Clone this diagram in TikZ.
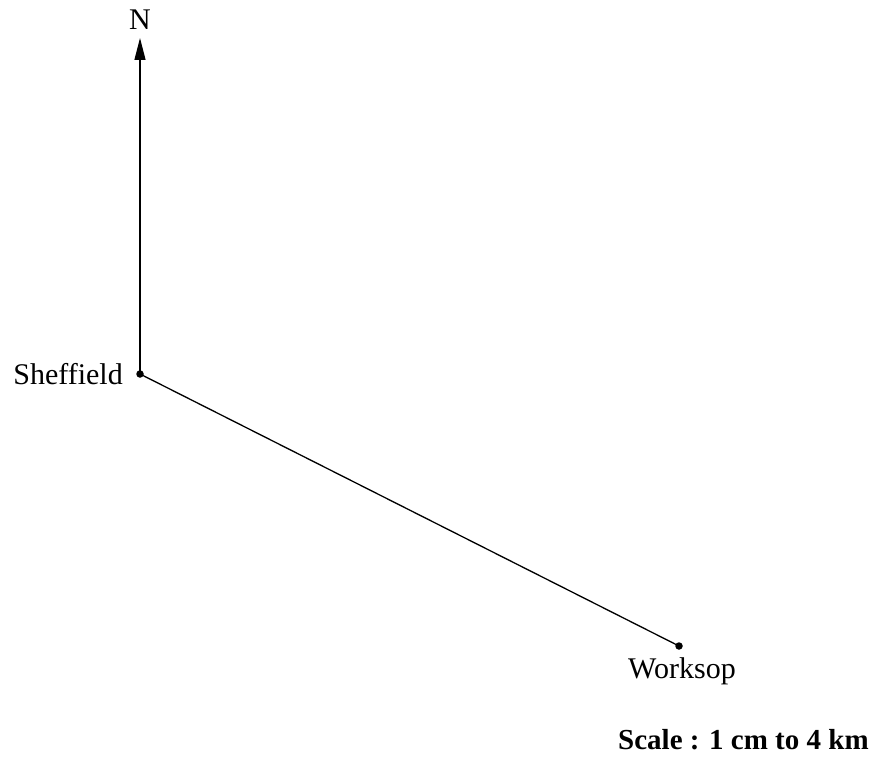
\documentclass[tikz,border=0pt]{standalone}
\usepackage{fontspec}
\setmainfont{Liberation Serif}
\usetikzlibrary{arrows.meta}
\begin{document}
\begin{tikzpicture}[x=1pt,y=-1pt,
  route/.style={line width=1.3pt},
  town/.style={circle,fill=black,inner sep=0pt,minimum size=7.5pt},
  place/.style={inner sep=0pt,font=\fontsize{30}{36}\selectfont},
  northarrow/.style={line width=1.3pt,-{Triangle[length=22pt,width=11pt]}}]
  \useasboundingbox (0,0) rectangle (875,762);
  % towns
  \node[town] (sheffield) at (140,374) {};
  \node[town] (worksop) at (679,646) {};
  \coordinate (northtip) at (140,38);
  % north arrow and the route between the towns
  \draw[northarrow] (sheffield.center) -- (northtip);
  \draw[route] (sheffield.center) -- (worksop.center);
  % labels
  \node[place,anchor=base] (nlabel) at (140,30) {N};
  \node[place,anchor=base east] (sheffieldlabel) at (123,384) {Sheffield};
  \node[place,anchor=base west] (worksoplabel) at (628,678) {Worksop};
  \node[inner sep=0pt,anchor=base west,font=\fontsize{29}{34}\selectfont\bfseries] (scale) at (618,749) {Scale : 1 cm to 4 km};
\end{tikzpicture}
\end{document}
